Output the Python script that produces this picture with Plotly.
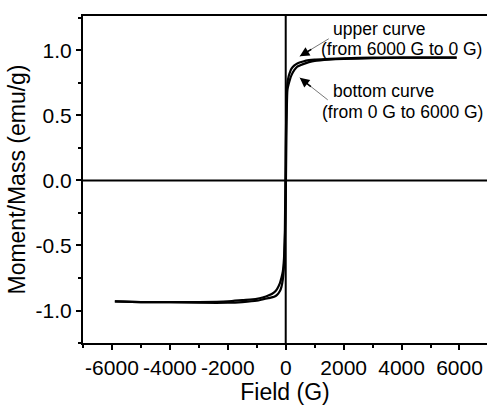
import plotly.graph_objects as go

# Upper curve (descending branch, from +6000 G towards -6000 G)
field_desc = [5900, 5000, 4000, 3000, 2000, 1500, 1000, 800, 600, 400, 300, 200, 150, 100, 60, 30, 0,
              -30, -60, -100, -150, -200, -300, -400, -600, -800, -1000, -1500, -2000, -3000, -4000, -5000, -5900]
moment_desc = [0.945, 0.945, 0.945, 0.945, 0.94, 0.935, 0.93, 0.925, 0.915, 0.90, 0.885, 0.86, 0.835, 0.80, 0.75, 0.62, 0.25,
               -0.40, -0.60, -0.70, -0.75, -0.79, -0.835, -0.86, -0.885, -0.90, -0.91, -0.92, -0.93, -0.935, -0.935, -0.935, -0.93]

# Bottom curve (ascending branch, from -6000 G towards +6000 G)
field_asc = [-5900, -5000, -4000, -3000, -2000, -1500, -1000, -800, -600, -400, -300, -200, -150, -100, -60, -30, 0,
             30, 60, 100, 150, 200, 300, 400, 600, 800, 1000, 1500, 2000, 3000, 4000, 5000, 5900]
moment_asc = [-0.93, -0.935, -0.935, -0.94, -0.94, -0.935, -0.925, -0.915, -0.905, -0.895, -0.88, -0.85, -0.82, -0.76, -0.66, -0.47, -0.15,
              0.45, 0.70, 0.74, 0.78, 0.81, 0.85, 0.875, 0.895, 0.91, 0.92, 0.93, 0.935, 0.94, 0.945, 0.945, 0.945]

x_ticks = [-6000, -4000, -2000, 0, 2000, 4000, 6000]
y_ticks = [-1.0, -0.5, 0.0, 0.5, 1.0]
y_tick_labels = ["-1.0", "-0.5", "0.0", "0.5", "1.0"]

FONT = "Liberation Sans, Arial, sans-serif"

fig = go.Figure()
fig.add_trace(go.Scatter(x=field_desc, y=moment_desc, mode="lines",
                         line=dict(color="black", width=2.2, shape="spline", smoothing=0.6),
                         showlegend=False, hoverinfo="skip"))
fig.add_trace(go.Scatter(x=field_asc, y=moment_asc, mode="lines",
                         line=dict(color="black", width=2.2, shape="spline", smoothing=0.6),
                         showlegend=False, hoverinfo="skip"))

# zero lines
fig.add_shape(type="line", xref="x", yref="paper", x0=0, x1=0, y0=0, y1=1,
              line=dict(color="black", width=2))
fig.add_shape(type="line", xref="paper", yref="y", x0=0, x1=1, y0=0, y1=0,
              line=dict(color="black", width=2))

# arrows: thin gray line + black head
arrows = [((1486, 1.09), (484, 0.955)), ((1451, 0.62), (484, 0.79))]
for (tx, ty), (hx, hy) in arrows:
    fig.add_shape(type="line", xref="x", yref="y", x0=tx, y0=ty, x1=hx, y1=hy,
                  line=dict(color="#555555", width=0.8))
    fig.add_annotation(x=hx, y=hy, ax=hx + (tx - hx) * 0.45, ay=hy + (ty - hy) * 0.45,
                       xref="x", yref="y", axref="x", ayref="y", text="",
                       showarrow=True, arrowhead=2, arrowsize=1.2, arrowwidth=1.6,
                       arrowcolor="black")

texts = [("upper curve", 1560, 1.168), ("(from 6000 G to 0 G)", 1140, 1.01),
         ("bottom curve", 1560, 0.69), ("(from 0 G to 6000 G)", 1175, 0.53)]
for t, x, y in texts:
    fig.add_annotation(x=x, y=y, xref="x", yref="y", text=t, showarrow=False,
                       xanchor="left", yanchor="middle",
                       font=dict(family=FONT, size=17.5, color="black"))

fig.update_layout(
    width=487, height=405,
    margin=dict(l=83, r=0, t=16, b=62),
    paper_bgcolor="white", plot_bgcolor="white",
    font=dict(family=FONT, color="black"),
)
fig.update_xaxes(
    range=[-7000, 6950], tickvals=x_ticks, ticktext=[str(v) for v in x_ticks],
    showgrid=False, zeroline=False, showline=True, linecolor="black", linewidth=2,
    mirror=True, ticks="outside", ticklen=5, tickwidth=1.5, tickcolor="black",
    minor=dict(dtick=1000, tick0=0, ticks="outside", ticklen=3, tickwidth=1.5, tickcolor="black"),
    tickfont=dict(family=FONT, size=21, color="black"),
    title=dict(text="Field (G)", font=dict(family=FONT, size=23, color="black"), standoff=2),
)
fig.update_yaxes(
    range=[-1.25, 1.265], tickvals=y_ticks, ticktext=y_tick_labels,
    showgrid=False, zeroline=False, showline=True, linecolor="black", linewidth=2,
    ticks="outside", ticklen=5, tickwidth=1.5, tickcolor="black",
    minor=dict(dtick=0.25, tick0=0, ticks="outside", ticklen=3, tickwidth=1.5, tickcolor="black"),
    tickfont=dict(family=FONT, size=21, color="black"),
    title=dict(text="Moment/Mass (emu/g)", font=dict(family=FONT, size=23, color="black"), standoff=4),
)

fig.write_html("out.html", config={"displayModeBar": False},
               post_script="document.body.style.margin='0px';document.body.style.overflow='hidden';")
